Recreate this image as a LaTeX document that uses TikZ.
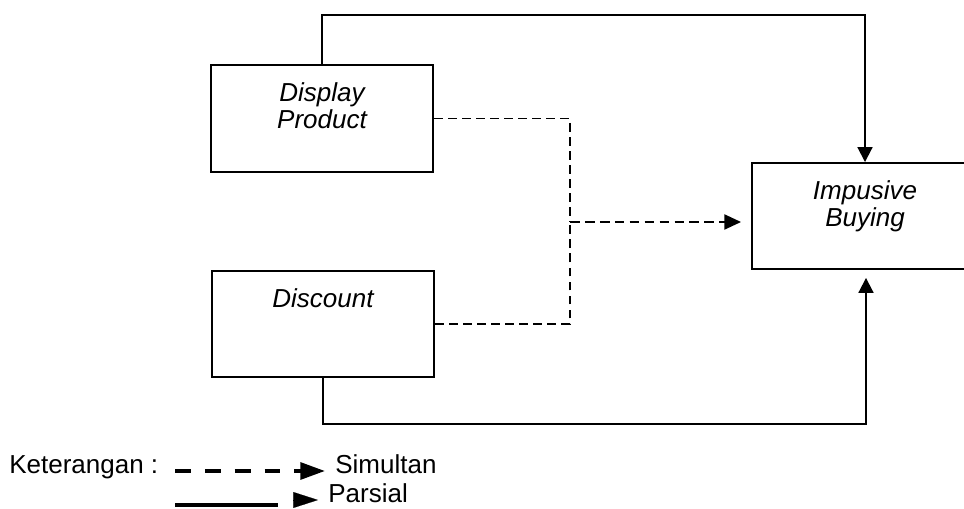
\documentclass[tikz,border=0pt]{standalone}
\usepackage{fontspec}
\setmainfont{Liberation Sans}
\usetikzlibrary{arrows.meta, positioning}

\begin{document}
\begin{tikzpicture}[x=0.02cm, y=-0.02cm, >=Triangle,
  varbox/.style={draw, line width=1.1pt, inner sep=0pt},
  boxtext/.style={inner sep=0pt, align=center, font=\fontsize{14.8}{15.4}\selectfont\itshape},
  legendtext/.style={inner sep=0pt, anchor=base west, font=\fontsize{14.8}{15.4}\selectfont},
  parsial/.style={line width=1.1pt, -{Triangle[length=8.5pt, width=8.5pt]}},
  simultan/.style={line width=0.8pt, dash pattern=on 5pt off 3pt},
  simarrow/.style={line width=1.3pt, dash pattern=on 5.5pt off 3pt,
    -{Triangle[length=9.5pt, width=8.5pt]}}]
\clip (0,0) rectangle (964,509);

% Variables
\node[varbox, minimum width=4.44cm, minimum height=2.14cm] (display) at (322,118.5) {};
\node[boxtext, below=0.36cm of display.north] (displaytext) {Display\\Product};

\node[varbox, minimum width=4.44cm, minimum height=2.12cm] (discount) at (323,324) {};
\node[boxtext, below=0.36cm of discount.north] (discounttext) {Discount};

\node[varbox, minimum width=4.52cm, minimum height=2.12cm] (buying) at (865,216) {};
\node[boxtext, below=0.36cm of buying.north] (buyingtext) {Impusive\\Buying};

% Partial paths
\coordinate (topbend) at (865,15);
\coordinate (botbend) at (866,424);
\draw[parsial] (display.north) |- (topbend) -- (buying.north);
\draw[parsial, shorten >=0.16cm] (discount.south) |- (botbend) -- (buying.south -| botbend);

% Simultaneous path
\coordinate (merge) at (570,222);
\draw[simultan] (display.east) -| (merge);
\draw[simultan] (discount.east) -| (merge);
\draw[simarrow, shorten >=0.2cm] (merge) -- (merge -| buying.west);

% Legend
\node[legendtext] (ket) at (9,474) {Keterangan :};
\coordinate (simstart) at (175,471);
\coordinate (simend) at (325,471);
\node[legendtext] (simtext) at (335,474) {Simultan};
\draw[line width=2.2pt, dash pattern=on 9pt off 8pt,
  -{Triangle[length=14pt, width=9.5pt]}] (simstart) -- (simend);

\coordinate (parstart) at (175,505);
\coordinate (parend) at (278,505);
\coordinate (parheadA) at (293,500);
\coordinate (parheadB) at (318,500);
\node[legendtext] (partext) at (328,503) {Parsial};
\draw[line width=2.2pt] (parstart) -- (parend);
\draw[line width=0.1pt, -{Triangle[length=14pt, width=9pt]}] (parheadA) -- (parheadB);
\end{tikzpicture}
\end{document}
